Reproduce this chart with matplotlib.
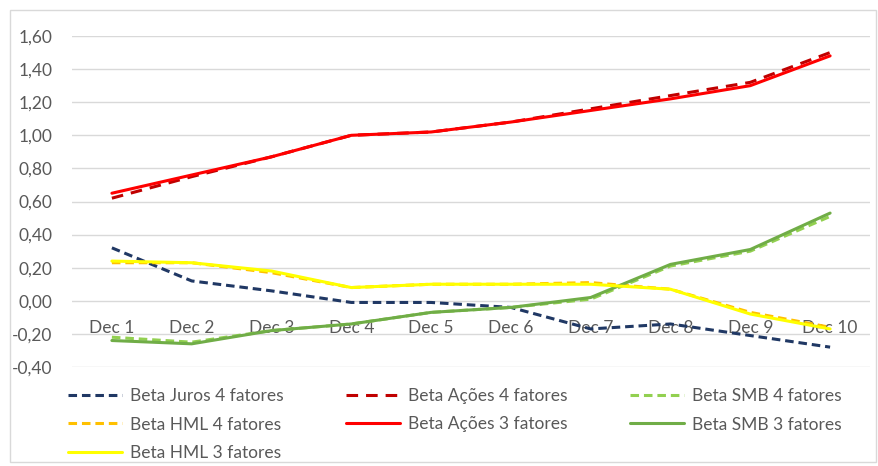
import matplotlib.pyplot as plt
from matplotlib.patches import Rectangle

plt.rcParams['font.family'] = ['Lato', 'DejaVu Sans']

categories = ['Dec 1', 'Dec 2', 'Dec 3', 'Dec 4', 'Dec 5',
              'Dec 6', 'Dec 7', 'Dec 8', 'Dec 9', 'Dec 10']

juros_4 = [0.32, 0.12, 0.06, -0.01, -0.01, -0.04, -0.17, -0.14, -0.21, -0.28]
acoes_4 = [0.62, 0.75, 0.87, 1.00, 1.02, 1.08, 1.16, 1.24, 1.32, 1.50]
smb_4 = [-0.22, -0.25, -0.18, -0.14, -0.07, -0.04, 0.01, 0.21, 0.30, 0.51]
hml_4 = [0.23, 0.23, 0.17, 0.08, 0.10, 0.10, 0.11, 0.07, -0.07, -0.16]
acoes_3 = [0.65, 0.76, 0.87, 1.00, 1.02, 1.08, 1.15, 1.22, 1.30, 1.48]
smb_3 = [-0.24, -0.26, -0.18, -0.14, -0.07, -0.04, 0.02, 0.22, 0.31, 0.53]
hml_3 = [0.24, 0.23, 0.18, 0.08, 0.10, 0.10, 0.10, 0.07, -0.08, -0.17]

y_ticks = [-0.4, -0.2, 0.0, 0.2, 0.4, 0.6, 0.8, 1.0, 1.2, 1.4, 1.6]

text_color = '#595959'
grid_color = '#D9D9D9'
fs = 12.5

fig = plt.figure(figsize=(8.79, 4.66), dpi=100)
ax = fig.add_axes([72 / 879, 1 - 367 / 466, (870 - 72) / 879, (367 - 36) / 466])

x = range(len(categories))
lw = 2.2
series = [
    (juros_4, 'Beta Juros 4 fatores', '#203864', (0, (2.8, 1.6))),
    (acoes_4, 'Beta Ações 4 fatores', '#C00000', (0, (3.8, 2.6))),
    (smb_4, 'Beta SMB 4 fatores', '#92D050', (0, (2.8, 1.6))),
    (hml_4, 'Beta HML 4 fatores', '#FFC000', (0, (2.8, 1.6))),
    (acoes_3, 'Beta Ações 3 fatores', '#FF0000', '-'),
    (smb_3, 'Beta SMB 3 fatores', '#70AD47', '-'),
    (hml_3, 'Beta HML 3 fatores', '#FFFF00', '-'),
]
handles = {}
for vals, label, color, ls in series:
    line, = ax.plot(x, vals, color=color, linestyle=ls, linewidth=lw,
                    label=label, solid_capstyle='round')
    handles[label] = line

ax.set_xlim(-0.5, len(categories) - 0.5)
ax.set_ylim(-0.4, 1.6)
ax.set_yticks(y_ticks)
ax.set_yticklabels([f'{v:.2f}'.replace('.', ',') for v in y_ticks])
ax.set_xticks(list(x))
ax.set_xticklabels(categories)

ax.grid(axis='y', color=grid_color, linewidth=1.0)
ax.set_axisbelow(True)
for s in ['top', 'right', 'left']:
    ax.spines[s].set_visible(False)
ax.spines['bottom'].set_position(('data', 0))
ax.spines['bottom'].set_visible(False)
ax.tick_params(axis='both', length=0, labelcolor=text_color, labelsize=fs)
ax.tick_params(axis='x', pad=14)
ax.tick_params(axis='y', pad=14)

order = ['Beta Juros 4 fatores', 'Beta HML 4 fatores', 'Beta HML 3 fatores',
         'Beta Ações 4 fatores', 'Beta Ações 3 fatores',
         'Beta SMB 4 fatores', 'Beta SMB 3 fatores']
leg = fig.legend([handles[k] for k in order], order, ncol=3, loc='upper left',
                 bbox_to_anchor=(68 / 879, 1 - 388 / 466), frameon=False,
                 fontsize=fs, handlelength=3.1, handletextpad=0.46,
                 columnspacing=3.6, labelspacing=0.72, borderpad=0,
                 borderaxespad=0)
for t in leg.get_texts():
    t.set_color(text_color)

fig.patches.append(Rectangle((10 / 879, 4 / 466), 866 / 879, 452 / 466,
                             transform=fig.transFigure, fill=False,
                             edgecolor='#D9D9D9', linewidth=1.0))

fig.savefig('out.png', dpi=100)
